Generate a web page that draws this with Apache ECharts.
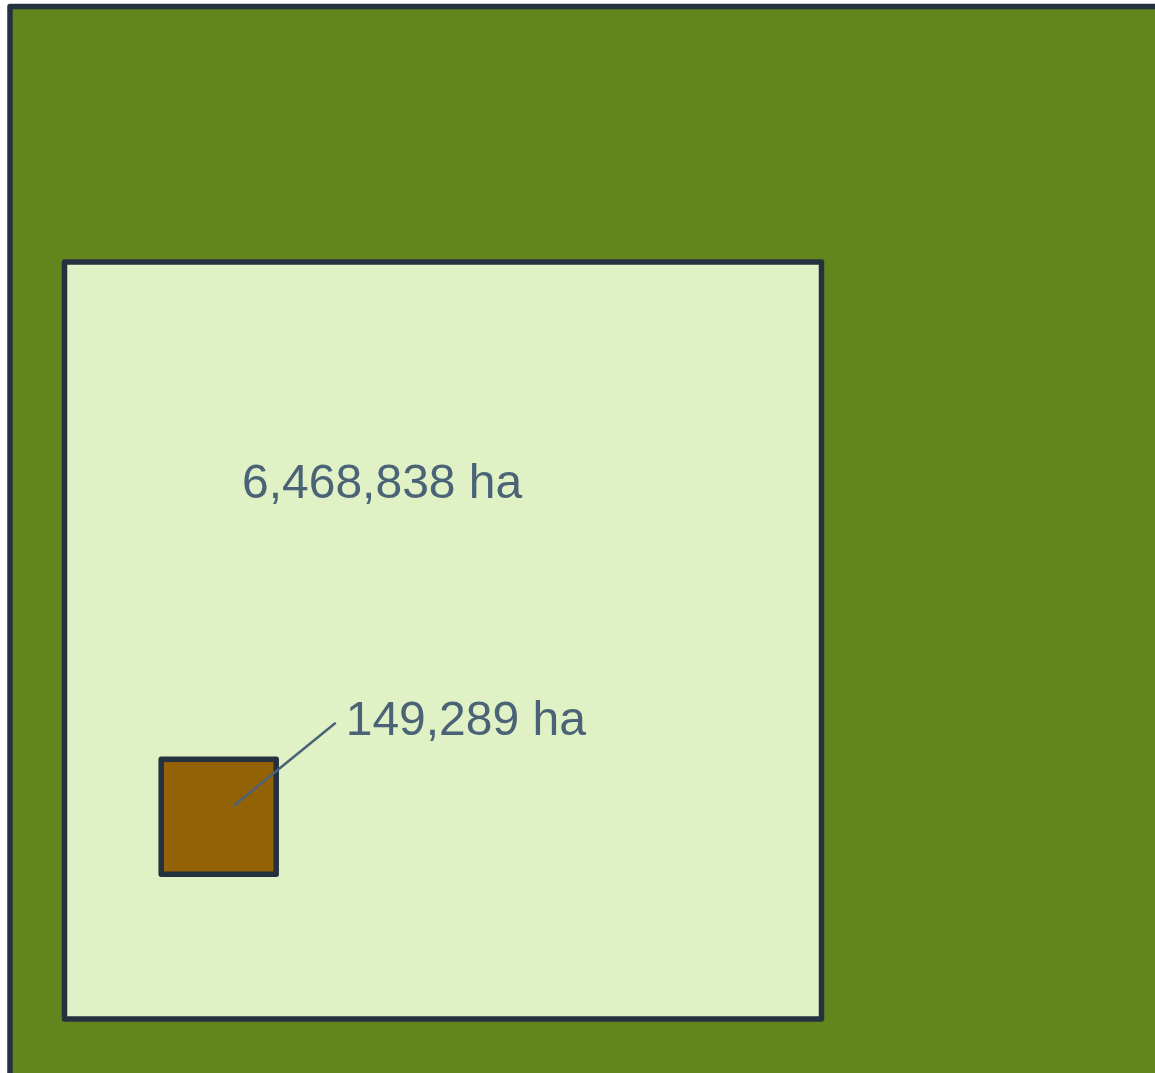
<!DOCTYPE html>
<html>
<head>
<meta charset="utf-8">
<title>Nested area squares</title>
<script src="https://cdn.jsdelivr.net/npm/echarts@6/dist/echarts.min.js"></script>
<style>
  html, body { margin: 0; padding: 0; background: #ffffff; }
  #main { width: 1155px; height: 1073px; }
</style>
</head>
<body>
<div id="main"></div>
<script>
// 数据：每个方块的面积（公顷），外层方块超出画面，其数值为估计
const levels = ['outer', 'middle', 'inner'];
const areaHa = [16000000, 6468838, 149289];
const labelText = ['', '6,468,838 ha', '149,289 ha'];

// 样式
const fills = ['#62851e', '#e0f2c5', '#936106'];
const strokeColor = '#243240';
const textColor = '#4a6377';

// 布局：子方块中心相对父方块左上角的位置（父边长的比例）
const centerFrac = [null, [0.3637, 0.5325], [0.2037, 0.7328]];
// 标签与引线相对方块中心的像素偏移
const labelOffset = [null, [-201, -156], [127, -95]];
const leaderOffset = [null, null, [[117, -94], [15, -11]]];

const pxPerUnit = 757 / Math.sqrt(areaHa[1]); // 边长单位 = sqrt(ha)
const gridLeft = 10, gridTop = 6.5;

// 计算每个方块的中心（边长单位）
const sides = areaHa.map(v => Math.sqrt(v));
const topLefts = [];
const centers = [];
sides.forEach((s, i) => {
  let c;
  if (i === 0) {
    c = [s / 2, s / 2];
  } else {
    const p = topLefts[i - 1], ps = sides[i - 1];
    c = [p[0] + centerFrac[i][0] * ps, p[1] + centerFrac[i][1] * ps];
  }
  centers.push(c);
  topLefts.push([c[0] - s / 2, c[1] - s / 2]);
});

var myChart = echarts.init(document.getElementById('main'));

var option = {
  animation: false,
  grid: { left: gridLeft, top: gridTop, right: 0, bottom: 0 },
  xAxis: { type: 'value', min: 0, max: (1155 - gridLeft) / pxPerUnit, show: false },
  yAxis: { type: 'value', min: 0, max: (1073 - gridTop) / pxPerUnit, inverse: true, show: false },
  series: [{
    type: 'custom',
    clip: false,
    encode: { x: 0, y: 1 },
    data: areaHa.map((v, i) => ({ name: levels[i], value: [centers[i][0], centers[i][1], v] })),
    renderItem: function (params, api) {
      const i = params.dataIndex;
      const c = api.coord([api.value(0), api.value(1)]);
      const side = Math.sqrt(api.value(2));
      const sz = api.size([side, side]);
      const children = [{
        type: 'rect',
        shape: { x: c[0] - sz[0] / 2, y: c[1] - sz[1] / 2, width: sz[0], height: sz[1] },
        style: { fill: fills[i], stroke: strokeColor, lineWidth: 5.5, lineJoin: 'round' }
      }];
      if (leaderOffset[i]) {
        const a = leaderOffset[i][0], b = leaderOffset[i][1];
        children.push({
          type: 'line',
          shape: { x1: c[0] + a[0], y1: c[1] + a[1], x2: c[0] + b[0], y2: c[1] + b[1] },
          style: { stroke: textColor, lineWidth: 2.5 }
        });
      }
      if (labelText[i]) {
        children.push({
          type: 'text',
          x: c[0] + labelOffset[i][0],
          y: c[1] + labelOffset[i][1],
          style: {
            text: labelText[i],
            fill: textColor,
            fontSize: 48,
            fontFamily: 'Liberation Sans, Arial, sans-serif',
            align: 'left',
            verticalAlign: 'middle'
          }
        });
      }
      return { type: 'group', children: children };
    }
  }]
};

myChart.setOption(option);
</script>
</body>
</html>
